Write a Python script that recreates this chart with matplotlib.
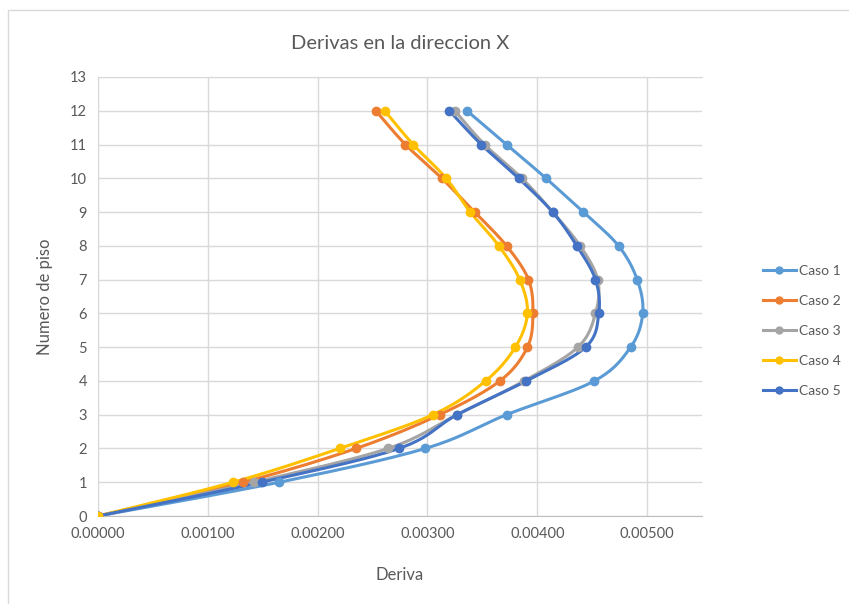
import numpy as np
import matplotlib
matplotlib.use("Agg")
import matplotlib.pyplot as plt
from matplotlib.lines import Line2D

plt.rcParams['font.family'] = ['Lato', 'DejaVu Sans']

pisos = [0, 1, 2, 3, 4, 5, 6, 7, 8, 9, 10, 11, 12]

caso1 = [0.0, 0.00165, 0.00298, 0.00372, 0.00452, 0.00485, 0.00496, 0.00491, 0.00474, 0.00442, 0.00408, 0.00372, 0.00336]
caso2 = [0.0, 0.00132, 0.00235, 0.00311, 0.00366, 0.00391, 0.00396, 0.00392, 0.00372, 0.00343, 0.00313, 0.00280, 0.00253]
caso3 = [0.0, 0.00142, 0.00264, 0.00327, 0.00388, 0.00437, 0.00453, 0.00455, 0.00439, 0.00414, 0.00386, 0.00352, 0.00325]
caso4 = [0.0, 0.00123, 0.00220, 0.00305, 0.00353, 0.00380, 0.00391, 0.00384, 0.00365, 0.00339, 0.00317, 0.00287, 0.00261]
caso5 = [0.0, 0.00149, 0.00274, 0.00327, 0.00390, 0.00444, 0.00456, 0.00453, 0.00436, 0.00414, 0.00383, 0.00349, 0.00320]

# (name, values, colour, stacking order of the markers)
series = [("Caso 1", caso1, "#5B9BD5", 4.1),
          ("Caso 2", caso2, "#ED7D31", 4.2),
          ("Caso 3", caso3, "#A5A5A5", 4.3),
          ("Caso 4", caso4, "#FFC000", 4.5),
          ("Caso 5", caso5, "#4472C4", 4.4)]

x_ticks = [0.0, 0.001, 0.002, 0.003, 0.004, 0.005]
y_ticks = list(range(0, 14))
XMAX, YMAX = 0.0055, 13


def smooth(xs, ys, sx, sy, n=24):
    """Catmull-Rom style smoothing done in scaled (display-like) units."""
    px = np.asarray(xs) * sx
    py = np.asarray(ys) * sy
    pts = np.column_stack([px, py])
    out = [pts[0]]
    for i in range(len(pts) - 1):
        p0 = pts[i - 1] if i > 0 else pts[i]
        p1 = pts[i]
        p2 = pts[i + 1]
        p3 = pts[i + 2] if i + 2 < len(pts) else pts[i + 1]
        c1 = p1 + (p2 - p0) / 6.0
        c2 = p2 - (p3 - p1) / 6.0
        t = np.linspace(0, 1, n)[1:, None]
        seg = ((1 - t) ** 3) * p1 + 3 * ((1 - t) ** 2) * t * c1 + 3 * (1 - t) * t ** 2 * c2 + t ** 3 * p2
        out.extend(seg)
    out = np.array(out)
    return out[:, 0] / sx, out[:, 1] / sy


fig = plt.figure(figsize=(8.49, 6.04), dpi=100)
ax = fig.add_axes([98 / 849, 1 - 516 / 604, (702 - 98) / 849, (516 - 77) / 604])

# chart frame
fig.patches.append(plt.Rectangle((8 / 849, -0.01), (849 - 8) / 849 + 0.01, 1 - 10 / 604 + 0.01,
                                 transform=fig.transFigure, fill=False,
                                 edgecolor="#D9D9D9", linewidth=1.0))

sx = 604 / XMAX
sy = 439 / YMAX
handles = []
for name, vals, col, z in series:
    xs, ys = smooth(vals, pisos, sx, sy)
    ax.plot(xs, ys, color=col, linewidth=2.2, solid_capstyle="round", zorder=3)
    ax.plot(vals, pisos, linestyle="none", marker="o", markersize=6,
            color=col, zorder=z)
    handles.append(Line2D([], [], color=col, linewidth=2.2, marker="o", markersize=5))

ax.set_xlim(0, XMAX)
ax.set_ylim(0, YMAX)
ax.set_xticks(x_ticks)
ax.set_xticklabels([f"{v:.5f}" for v in x_ticks])
ax.set_yticks(y_ticks)
ax.grid(True, color="#D9D9D9", linewidth=1.0, zorder=0)
ax.set_axisbelow(True)
ax.spines["right"].set_visible(False)
ax.spines["top"].set_color("#D9D9D9")
ax.spines["left"].set_color("#D9D9D9")
ax.spines["bottom"].set_color("#BFBFBF")
ax.tick_params(length=0, labelsize=10.5, labelcolor="#595959", pad=8)

ax.set_title("Derivas en la direccion X", fontsize=14.5, color="#595959", pad=20)
ax.set_xlabel("Deriva", fontsize=12, color="#595959", labelpad=19)
ax.set_ylabel("Numero de piso", fontsize=12, color="#595959", labelpad=12)

fig.legend(handles, [s[0] for s in series], loc="center left",
           bbox_to_anchor=(750 / 849, 1 - 331 / 604), frameon=False,
           fontsize=10, labelcolor="#595959", handlelength=2.4,
           labelspacing=1.3, handletextpad=0.25)

fig.savefig("out.png", dpi=100)
